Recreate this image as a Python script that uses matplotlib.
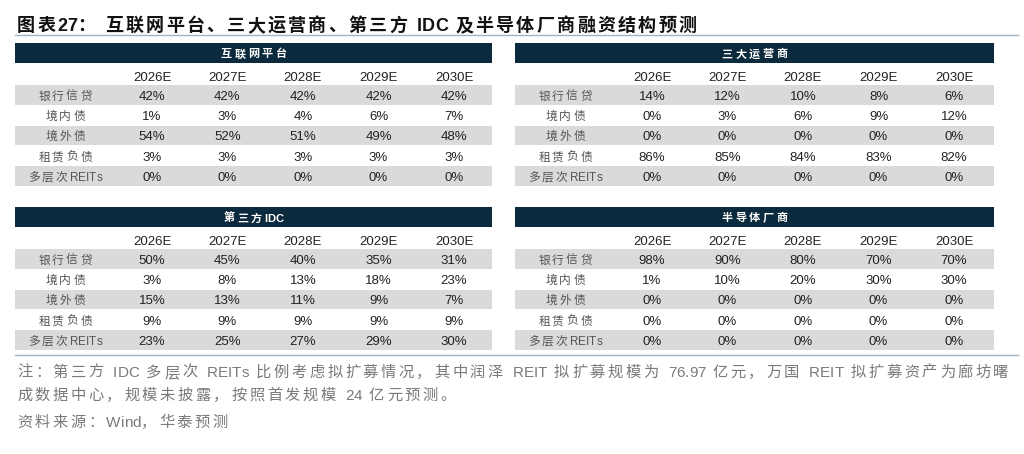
import matplotlib
matplotlib.use("Agg")
import matplotlib.pyplot as plt
from matplotlib.patches import Rectangle
from matplotlib.font_manager import FontProperties, findfont, get_font

plt.rcParams['font.family'] = ['Liberation Sans', 'Noto Sans CJK SC', 'DejaVu Sans']

# ---- data ----
years = ["2026E", "2027E", "2028E", "2029E", "2030E"]
items = ["银行信贷", "境内债", "境外债", "租赁负债", "多层次REITs"]

internet = [[42, 42, 42, 42, 42],
            [1, 3, 4, 6, 7],
            [54, 52, 51, 49, 48],
            [3, 3, 3, 3, 3],
            [0, 0, 0, 0, 0]]
telecom = [[14, 12, 10, 8, 6],
           [0, 3, 6, 9, 12],
           [0, 0, 0, 0, 0],
           [86, 85, 84, 83, 82],
           [0, 0, 0, 0, 0]]
idc = [[50, 45, 40, 35, 31],
       [3, 8, 13, 18, 23],
       [15, 13, 11, 9, 7],
       [9, 9, 9, 9, 9],
       [23, 25, 27, 29, 30]]
semi = [[98, 90, 80, 70, 70],
        [1, 10, 20, 30, 30],
        [0, 0, 0, 0, 0],
        [0, 0, 0, 0, 0],
        [0, 0, 0, 0, 0]]

title = "图表27： 互联网平台、三大运营商、第三方 IDC 及半导体厂商融资结构预测"
notes = ["注：第三方 IDC 多层次 REITs 比例考虑拟扩募情况，其中润泽 REIT 拟扩募规模为 76.97 亿元，万国 REIT 拟扩募资产为廊坊曙",
         "成数据中心，规模未披露，按照首发规模 24 亿元预测。",
         "资料来源：Wind，华泰预测"]

NAVY = "#0c2a3d"
GRAY = "#dadada"

fig = plt.figure(figsize=(10.24, 4.54), dpi=100)
ax = fig.add_axes([0, 0, 1, 1])
ax.set_xlim(0, 1024)
ax.set_ylim(454, 0)
ax.axis("off")
HF = plt.rcParams['text.hinting_factor']


def advance(ch, size, weight):
    fam = 'Liberation Sans' if ord(ch) < 128 else 'Noto Sans CJK SC'
    f = get_font(findfont(FontProperties(family=fam, weight=weight)))
    f.set_size(size, 100)
    g = f.load_char(ord(ch))
    return g.horiAdvance / 64.0 / HF


def spaced(x, y, s, track, align="left", fontsize=10, fontweight="normal", **kw):
    # one text per char; CJK chars and spaces get extra spacing, y is the baseline
    pos = [0.0]
    for ch in s:
        a = advance(ch, fontsize, fontweight)
        if ord(ch) > 127 or ch == " ":
            a += track
        pos.append(pos[-1] + a)
    total = pos[-1] - (track if ord(s[-1]) > 127 else 0)
    if align == "center":
        x = x - total / 2
    for i, ch in enumerate(s):
        if ch != " ":
            ax.text(x + pos[i], y, ch, ha="left", va="baseline",
                    fontsize=fontsize, fontweight=fontweight, **kw)


spaced(17, 31, title, 2.3, fontsize=13, fontweight="bold", color="#111111")
ax.plot([15, 1018], [35, 35], color="#9fb3c8", lw=1)


def draw_table(x0, x1, y0, name, vals):
    ax.add_patch(Rectangle((x0, y0), x1 - x0, 20, color=NAVY, lw=0))
    spaced((x0 + x1) / 2, y0 + 14.5, name, 2.5, align="center",
           fontsize=8, fontweight="bold", color="white")
    xs = [x0 + 137 + 75.5 * i for i in range(5)]
    lab_x = x0 + 50
    for x, yr in zip(xs, years):
        ax.text(x, y0 + 38, yr, fontsize=9.5, color="#222222", ha="center", va="baseline")
    rh = 20.3
    ry0 = y0 + 42
    for r, (lab, row) in enumerate(zip(items, vals)):
        yy = ry0 + r * rh
        if r % 2 == 0:
            ax.add_patch(Rectangle((x0, yy), x1 - x0, rh - 0.8, color=GRAY, lw=0))
        yb = yy + rh / 2 + 4.5
        spaced(lab_x, yb, lab, 2.2, align="center", fontsize=8.5, color="#555555")
        for x, v in zip(xs, row):
            ax.text(x, yb, f"{v}%", fontsize=9.5, color="#222222", ha="center", va="baseline")


draw_table(15, 492, 43, "互联网平台", internet)
draw_table(515, 994, 43, "三大运营商", telecom)
draw_table(15, 492, 207, "第三方IDC", idc)
draw_table(515, 994, 207, "半导体厂商", semi)

ax.plot([15, 1018], [355, 355], color="#9fb3c8", lw=1)
for y, line in zip([377, 400, 427], notes):
    spaced(17, y, line, 2.6, fontsize=11, color="#7a7a7a")

fig.savefig("out.png", dpi=100)
